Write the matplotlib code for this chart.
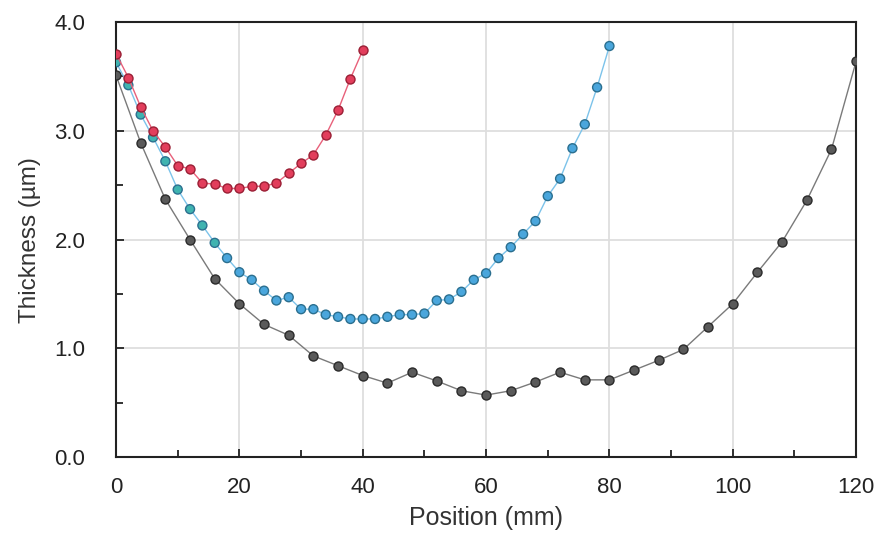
import matplotlib.pyplot as plt
from matplotlib.ticker import MultipleLocator

plt.rcParams['font.family'] = ['Liberation Sans', 'DejaVu Sans']

# red series, 0-40 mm
red_x = list(range(0, 41, 2))
red_y = [3.71, 3.49, 3.22, 3.00, 2.85, 2.68, 2.65, 2.52, 2.51, 2.47, 2.47,
         2.49, 2.49, 2.52, 2.61, 2.70, 2.78, 2.96, 3.19, 3.48, 3.74]

# blue series, 0-80 mm
blue_x = list(range(0, 81, 2))
blue_y = [3.63, 3.42, 3.15, 2.94, 2.72, 2.46, 2.28, 2.13, 1.97, 1.83, 1.70,
          1.63, 1.53, 1.44, 1.47, 1.36, 1.36, 1.31, 1.29, 1.27, 1.27,
          1.27, 1.29, 1.31, 1.31, 1.32, 1.44, 1.45, 1.52, 1.63, 1.69,
          1.83, 1.93, 2.05, 2.17, 2.40, 2.56, 2.84, 3.06, 3.40, 3.78]

# black series, 0-120 mm
black_x = list(range(0, 121, 4))
black_y = [3.51, 2.89, 2.37, 2.00, 1.64, 1.41, 1.22, 1.12, 0.93, 0.84, 0.75,
           0.68, 0.78, 0.70, 0.61, 0.57, 0.61, 0.69, 0.78, 0.71, 0.71,
           0.80, 0.89, 0.99, 1.20, 1.41, 1.70, 1.98, 2.36, 2.83, 3.64]

fig = plt.figure(figsize=(8.79, 5.39), dpi=100)
ax = fig.add_axes([0.132, 0.152, 0.842, 0.807])

ax.plot(black_x, black_y, color='#7a7a7a', lw=1.0, marker='o', ms=6.5,
        mfc='#5a5a5a', mec='#2a2a2a', mew=1.0, zorder=3)
blue_fc = ['#3fb3b0' if x <= 16 else '#4aa6dc' for x in blue_x]
ax.plot(blue_x, blue_y, color='#7cc3ea', lw=1.0, zorder=3)
ax.scatter(blue_x, blue_y, s=42, c=blue_fc, edgecolors='#2b6f8f', linewidths=1.0, zorder=4)
ax.plot(red_x, red_y, color='#e8607a', lw=1.0, marker='o', ms=6.5,
        mfc='#e23e5c', mec='#9a1f35', mew=1.0, zorder=5)

ax.set_xlim(0, 120)
ax.set_ylim(0, 4.0)
ax.xaxis.set_major_locator(MultipleLocator(20))
ax.xaxis.set_minor_locator(MultipleLocator(10))
ax.yaxis.set_major_locator(MultipleLocator(1.0))
ax.yaxis.set_minor_locator(MultipleLocator(0.5))
ax.yaxis.set_major_formatter(lambda v, p: f'{v:.1f}')

ax.grid(True, which='major', color='#dedede', lw=1.3, zorder=0)
ax.tick_params(which='both', direction='in', width=1.3, colors='#222222', labelcolor='#222222')
ax.tick_params(which='major', length=6, labelsize=16)
ax.tick_params(which='minor', length=5)
ax.tick_params(axis='x', which='major', pad=14)
ax.tick_params(axis='y', which='major', pad=22)
for s in ax.spines.values():
    s.set_linewidth(1.5)
    s.set_color('#222222')

ax.set_xlabel('Position (mm)', fontsize=18, color='#333333', labelpad=6)
ax.set_ylabel('Thickness (µm)', fontsize=17.5, color='#333333', labelpad=10)

fig.savefig('out.png', dpi=100)
